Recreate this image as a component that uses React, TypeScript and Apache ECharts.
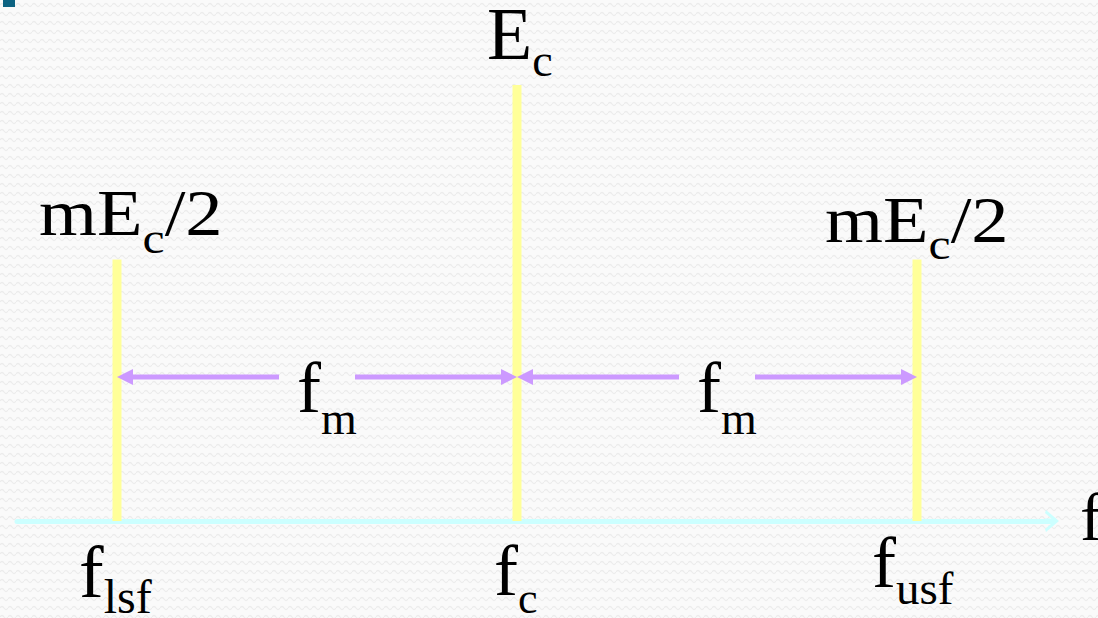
import React, { useEffect, useRef } from "react";
import * as echarts from "echarts";

// Spectrum of an AM wave: carrier at f_c, side bands at f_c ± f_m
const frequencies = [-1, 0, 1]; // in units of f_m, relative to f_c
const amplitudes = [0.6, 1, 0.6]; // relative to E_c
const freqLabels: [string, string][] = [
  ["f", "lsf"],
  ["f", "c"],
  ["f", "usf"],
];
const ampLabels: [string, boolean][][] = [
  [["mE", false], ["c", true], ["/2", false]],
  [["E", false], ["c", true]],
  [["mE", false], ["c", true], ["/2", false]],
];
const arrowSpans = [
  [-1, 0, 0.33],
  [0, 1, 0.33],
];
const arrowLabel: [string, boolean][] = [["f", false], ["m", true]];
const axisName = "f";

const SERIF = '"Liberation Serif","Times New Roman",Times,serif';
const K = 0.8375;

function rich(parts: [string, boolean][], F: number, S: number, drop: number) {
  const P = drop + K * (F - S);
  return {
    text: parts.map(([t, s]) => `{${s ? "s" : "m"}|${t}}`).join(""),
    rich: {
      m: { fontSize: F, lineHeight: F, fontFamily: SERIF, fill: "#000", verticalAlign: "top" },
      s: {
        fontSize: S,
        lineHeight: S,
        fontFamily: SERIF,
        fill: "#000",
        verticalAlign: "top",
        padding: [P, 0, 0, 0],
      },
    },
    align: "left",
    verticalAlign: "top",
  };
}

function label(
  x: number,
  baseline: number,
  parts: [string, boolean][],
  F: number,
  S: number,
  drop: number,
  sx = 1
) {
  return {
    type: "text",
    x,
    y: baseline - K * F,
    scaleX: sx,
    z: 10,
    style: rich(parts, F, S, drop),
  };
}

const bgPattern =
  "url(\"data:image/svg+xml;utf8,<svg xmlns='http://www.w3.org/2000/svg' width='8' height='9'><path d='M0,5 Q2,2 4,5 T8,5' stroke='%23ececec' stroke-width='1.3' fill='none'/></svg>\")";

export default function App() {
  const ref = useRef<HTMLDivElement>(null);
  useEffect(() => {
    if (!ref.current) return;
    const chart = echarts.init(ref.current, undefined, { renderer: "svg" });
    const ampPos = [
      { x: 39, b: 235, F: 66, S: 44, d: 18, sx: 1.13 },
      { x: 487, b: 59, F: 74, S: 46, d: 17, sx: 1 },
      { x: 825, b: 242, F: 66, S: 44, d: 17, sx: 1.13 },
    ];
    const freqPos = [
      { x: 79, b: 597, F: 74, S: 48, d: 16 },
      { x: 494, b: 595, F: 72, S: 44, d: 18 },
      { x: 872, b: 587, F: 72, S: 47, d: 17 },
    ];
    const graphics: any[] = [
      { type: "rect", shape: { x: 3, y: 0, width: 12, height: 7 }, style: { fill: "#0d6382" } },
    ];
    ampLabels.forEach((p, i) => {
      const q = ampPos[i];
      graphics.push(label(q.x, q.b, p, q.F, q.S, q.d, q.sx));
    });
    freqLabels.forEach((p, i) => {
      const q = freqPos[i];
      graphics.push(label(q.x, q.b, [[p[0], false], [p[1], true]], q.F, q.S, q.d));
    });
    graphics.push(label(1080, 540, [[axisName, false]], 68, 44, 0));

    const arrowColor = "#cc99ff";
    chart.setOption({
      animation: false,
      backgroundColor: "transparent",
      grid: { left: 17, right: 46, top: 85, bottom: 97 },
      xAxis: {
        type: "value",
        min: -1.25,
        max: 1.3375,
        axisLine: {
          show: true,
          onZero: true,
          lineStyle: { color: "#ccffff", width: 5 },
          symbol: [
            "none",
            "path://M11,0 L22,13 L19,14 L13.5,7.5 L13.5,14 L8.5,14 L8.5,7.5 L3,14 L0,13 Z",
          ],
          symbolSize: [22, 14],
        },
        axisTick: { show: false },
        axisLabel: { show: false },
        splitLine: { show: false },
      },
      yAxis: { type: "value", min: 0, max: 1, show: false },
      graphic: graphics,
      series: [
        {
          type: "bar",
          data: frequencies.map((f, i) => [f, amplitudes[i]]),
          barWidth: 9,
          itemStyle: { color: "#ffff99" },
          z: 2,
        },
        {
          type: "custom",
          z: 3,
          encode: { x: [0, 1], y: 2 },
          data: arrowSpans,
          renderItem: (params: any, api: any) => {
            const a = api.coord([api.value(0), api.value(2)]);
            const b = api.coord([api.value(1), api.value(2)]);
            const y = a[1];
            const mid = (a[0] + b[0]) / 2;
            const head = 16;
            const hw = 8;
            const gap = 38;
            const ls = { stroke: arrowColor, lineWidth: 5 };
            return {
              type: "group",
              children: [
                { type: "line", shape: { x1: a[0] + head - 1, y1: y, x2: mid - gap, y2: y }, style: ls },
                { type: "line", shape: { x1: mid + gap, y1: y, x2: b[0] - head + 1, y2: y }, style: ls },
                {
                  type: "polygon",
                  shape: { points: [[a[0], y], [a[0] + head, y - hw], [a[0] + head, y + hw]] },
                  style: { fill: arrowColor },
                },
                {
                  type: "polygon",
                  shape: { points: [[b[0], y], [b[0] - head, y - hw], [b[0] - head, y + hw]] },
                  style: { fill: arrowColor },
                },
                {
                  type: "text",
                  x: mid - 20,
                  y: y + 35 - K * 72,
                  style: rich(arrowLabel, 72, 46, 22),
                },
              ],
            };
          },
        },
      ],
    });
    return () => chart.dispose();
  }, []);
  return (
    <div
      ref={ref}
      style={{
        position: "fixed",
        left: 0,
        top: 0,
        width: 1098,
        height: 618,
        backgroundColor: "#fafafa",
        backgroundImage: bgPattern,
      }}
    />
  );
}
